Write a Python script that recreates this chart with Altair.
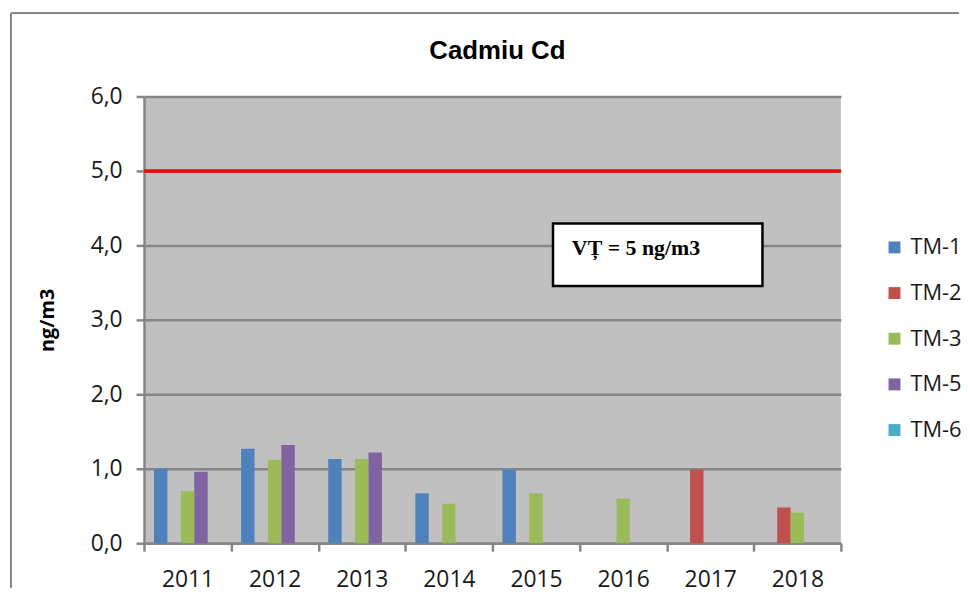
import altair as alt
import pandas as pd

years = ["2011", "2012", "2013", "2014", "2015", "2016", "2017", "2018"]
series = ["TM-1", "TM-2", "TM-3", "TM-5", "TM-6"]
colors = ["#4F81BD", "#C0504D", "#9BBB59", "#8064A2", "#4BACC6"]

tm1 = [1.00, 1.27, 1.13, 0.67, 0.99, None, None, None]
tm2 = [None, None, None, None, None, None, 0.99, 0.48]
tm3 = [0.70, 1.12, 1.13, 0.53, 0.67, 0.60, None, 0.41]
tm5 = [0.96, 1.32, 1.22, None, None, None, None, None]
tm6 = [None, None, None, None, None, None, None, None]

limit_value = 5.0
limit_label = "VȚ = 5 ng/m3"
chart_title = "Cadmiu Cd"

rows = []
for name, vals in zip(series, [tm1, tm2, tm3, tm5, tm6]):
    for y, v in zip(years, vals):
        if v is not None:
            rows.append({"year": y, "series": name, "value": v})
df = pd.DataFrame(rows)

W, H = 702, 450
FONT = "Open Sans"

yscale = alt.Scale(domain=[0, 6])

bars = alt.Chart(df).mark_bar().encode(
    x=alt.X("year:N", sort=years,
            scale=alt.Scale(domain=years, paddingInner=0, paddingOuter=0),
            axis=alt.Axis(title=None, tickBand="extent", labelAngle=0,
                          labelFontSize=23, labelFont=FONT, labelColor="#1a1a1a",
                          labelPadding=18, tickSize=8, tickWidth=2.5, tickColor="#868686",
                          domainColor="#868686", domainWidth=2.5, grid=False)),
    xOffset=alt.XOffset("series:N", scale=alt.Scale(domain=series, paddingInner=0, paddingOuter=0.745)),
    y=alt.Y("value:Q", scale=yscale,
            axis=alt.Axis(title="ng/m3", values=[0, 1, 2, 3, 4, 5, 6],
                          labelExpr="replace(format(datum.value, '.1f'), '.', ',')",
                          labelFontSize=23, labelFont=FONT, labelColor="#1a1a1a",
                          labelPadding=14, tickSize=8, tickWidth=2.5, tickColor="#868686",
                          domainColor="#868686", domainWidth=2.5,
                          grid=True, gridColor="#868686", gridWidth=2.5,
                          titleFont=FONT, titleFontSize=20, titleFontWeight="bold",
                          titleColor="#000000", titlePadding=33)),
    color=alt.Color("series:N", scale=alt.Scale(domain=series, range=colors),
                    legend=alt.Legend(title=None, orient="none", legendX=745, legendY=141,
                                      symbolType="square", symbolSize=144, symbolStrokeWidth=0,
                                      labelFont=FONT, labelFontSize=22, labelColor="#1a1a1a",
                                      labelOffset=5, rowPadding=24, padding=0)),
)

limit = alt.Chart(pd.DataFrame({"v": [limit_value]})).mark_rule(
    color="#FF0000", strokeWidth=3.5
).encode(y=alt.Y("v:Q", scale=yscale))

box = alt.Chart(pd.DataFrame({"t": [limit_label]})).mark_rect(
    fill="white", stroke="black", strokeWidth=2.5
).encode(x=alt.value(412), x2=alt.value(623), y=alt.value(128), y2=alt.value(191))

label = alt.Chart(pd.DataFrame({"t": [limit_label]})).mark_text(
    font="Liberation Serif", fontSize=22, fontWeight="bold", align="left",
    baseline="alphabetic", color="black"
).encode(x=alt.value(431), y=alt.value(160), text="t:N")

title = alt.Chart(pd.DataFrame({"t": [chart_title]})).mark_text(
    font="Liberation Sans", fontSize=26, fontWeight="bold", align="center",
    baseline="alphabetic", color="black"
).encode(x=alt.value(356), y=alt.value(-38), text="t:N")

frame_top = alt.Chart(pd.DataFrame({"a": [0]})).mark_rule(
    color="#878787", strokeWidth=2
).encode(x=alt.value(-134), x2=alt.value(821), y=alt.value(-84))
frame_left = alt.Chart(pd.DataFrame({"a": [0]})).mark_rule(
    color="#878787", strokeWidth=2
).encode(x=alt.value(-134), y=alt.value(-84), y2=alt.value(495))

chart = alt.layer(bars, limit, box, label, title, frame_top, frame_left).properties(
    width=W, height=H,
    padding={"left": 2, "top": 2, "right": 0, "bottom": 0},
    background="white",
).configure_view(fill="#C0C0C0", stroke=None)

chart.save("out.html", embed_options={"renderer": "svg", "actions": False})
